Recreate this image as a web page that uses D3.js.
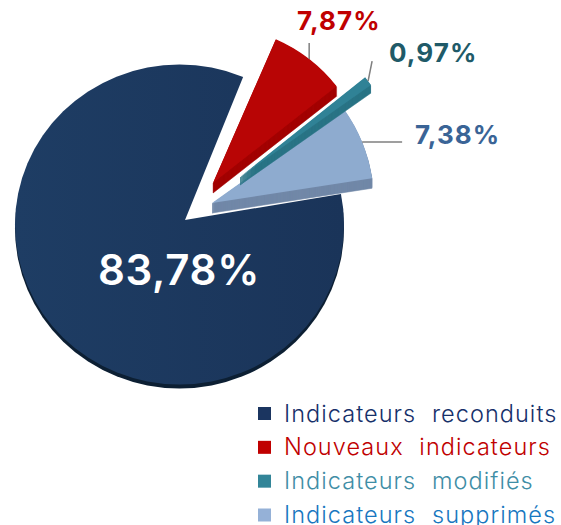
<!DOCTYPE html>
<html>
<head>
<meta charset="utf-8">
<script src="https://cdn.jsdelivr.net/npm/d3@7"></script>
<style>
  html, body { margin: 0; padding: 0; background: #fff; }
  svg { display: block; font-family: Inter, "Open Sans", sans-serif; }
</style>
</head>
<body>
<svg id="chart" width="561" height="525"></svg>
<script>
const categories = ["Indicateurs reconduits", "Nouveaux indicateurs", "Indicateurs modifiés", "Indicateurs supprimés"];
const shares = [83.78, 7.87, 0.97, 7.38];
const shareLabels = ["83,78%", "7,87%", "0,97%", "7,38%"];

const faceColors = ["url(#mainFill)", "#b80505", "#308296", "#8eabcf"];
const sideColors = ["#0c1f33", "#a30303", "#2a7486", "#7288a8"];
const labelColors = ["#ffffff", "#c00000", "#205a68", "#3a6496"];
const legendColors = ["#16306a", "#c00000", "#3f8ea6", "#1877c0"];
const swatchColors = ["#1b3560", "#c00000", "#328598", "#95b1d7"];

const svg = d3.select("#chart");

// each slice sits on its own apex, the pie is exploded by hand
const apex = [[185, 220], [213, 183], [240, 177], [212, 203]];
const radii = [0, 157, 160, 162];
const tilt = [0, 1.5, 1, 0.7];
const depth = [4, 10, 8, 10];

const deg = Math.PI / 180;
const pie = d3.pie().sort(null).startAngle(80.5 * deg).endAngle(440.5 * deg);
const slices = pie(shares);

const defs = svg.append("defs");
const grad = defs.append("linearGradient").attr("id", "mainFill");
grad.append("stop").attr("offset", "0%").attr("stop-color", "#1e3d64");
grad.append("stop").attr("offset", "100%").attr("stop-color", "#1a3459");

const g = svg.append("g");

// the main slice is a flattened disc with the notch cut out in white
const discArc = d3.arc().innerRadius(0).outerRadius(1).startAngle(0).endAngle(2 * Math.PI);
const disc = g.append("g").attr("transform", "translate(179.5,224.5)");
disc.append("path")
  .attr("transform", `translate(0,${depth[0]}) scale(164.5,160)`)
  .attr("d", discArc())
  .attr("fill", sideColors[0]);
disc.append("path")
  .attr("transform", "scale(164.5,160)")
  .attr("d", discArc())
  .attr("fill", faceColors[0]);

const notch = d3.arc().innerRadius(0).outerRadius(240)
  .startAngle(slices[1].startAngle)
  .endAngle(slices[3].endAngle);
g.append("path")
  .attr("transform", `translate(${apex[0][0]},${apex[0][1]})`)
  .attr("d", notch())
  .attr("fill", "#fff");

// pulled out slices, blue first so teal and red lie on top of it
[3, 2, 1].forEach(i => {
  const d = slices[i];
  const arc = d3.arc().innerRadius(0).outerRadius(radii[i]);
  d3.range(depth[i], 0, -1).forEach(k => {
    g.append("path")
      .attr("transform", `translate(${apex[i][0]},${apex[i][1] + k}) rotate(${tilt[i]})`)
      .attr("d", arc(d))
      .attr("fill", sideColors[i])
      .attr("stroke", sideColors[i])
      .attr("stroke-width", 0.6);
  });
  g.append("path")
    .attr("transform", `translate(${apex[i][0]},${apex[i][1]}) rotate(${tilt[i]})`)
    .attr("d", arc(d))
    .attr("fill", faceColors[i]);
});

// leader lines, from the slice edge at its mid angle
const leaderEnd = [null, [0, -16], [4, -20], [40, 0]];
slices.forEach((d, i) => {
  if (!leaderEnd[i]) return;
  const mid = (d.startAngle + d.endAngle) / 2 + tilt[i] * deg;
  const x = apex[i][0] + radii[i] * Math.sin(mid);
  const y = apex[i][1] - radii[i] * Math.cos(mid);
  g.append("line")
    .attr("x1", x).attr("y1", y)
    .attr("x2", x + leaderEnd[i][0]).attr("y2", y + leaderEnd[i][1])
    .attr("stroke", "#7f7f7f")
    .attr("stroke-width", 1.5);
});

// value labels
const labelPos = [[98, 285, 42, 0.7], [297, 30, 26, 1.1], [389, 62, 26, 1.1], [415, 144, 26, 1]];
svg.selectAll(".value")
  .data(shareLabels)
  .enter()
  .append("text")
  .attr("class", "value")
  .attr("x", (d, i) => labelPos[i][0])
  .attr("y", (d, i) => labelPos[i][1])
  .attr("font-size", (d, i) => labelPos[i][2])
  .attr("letter-spacing", (d, i) => labelPos[i][3])
  .attr("font-weight", (d, i) => (i === 0 ? 600 : 700))
  .attr("fill", (d, i) => labelColors[i])
  .text(d => d);

// legend
const legendY = d3.scalePoint().domain(categories).range([413.5, 515]);
const legend = svg.selectAll(".legend")
  .data(categories)
  .enter()
  .append("g")
  .attr("class", "legend")
  .attr("transform", d => `translate(258,${legendY(d)})`);

legend.append("rect")
  .attr("y", -6.5)
  .attr("width", 13)
  .attr("height", 13)
  .attr("fill", (d, i) => swatchColors[i]);

legend.append("text")
  .attr("x", 26)
  .attr("y", 8)
  .attr("font-size", 23.5)
  .attr("font-weight", 300)
  .attr("letter-spacing", 1.05)
  .attr("word-spacing", 8)
  .attr("fill", (d, i) => legendColors[i])
  .text(d => d);
</script>
</body>
</html>
